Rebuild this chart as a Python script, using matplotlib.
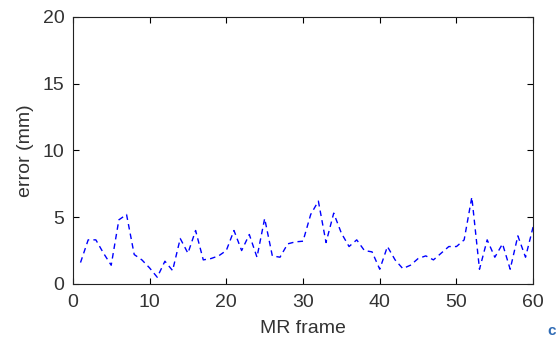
import matplotlib.pyplot as plt
import numpy as np

# datos: error por frame de MR
frames = np.arange(1, 61)
error_mm = [1.6, 3.3, 3.3, 2.3, 1.4, 4.8, 5.2, 2.2, 1.8, 1.2,
            0.5, 1.7, 1.0, 3.4, 2.3, 4.0, 1.8, 1.9, 2.1, 2.5,
            4.0, 2.5, 3.7, 2.0, 4.9, 2.1, 2.0, 3.0, 3.15, 3.2,
            5.2, 6.2, 3.1, 5.3, 3.8, 2.8, 3.3, 2.5, 2.4, 1.1,
            2.8, 1.8, 1.15, 1.4, 1.9, 2.1, 1.8, 2.3, 2.8, 2.8,
            3.3, 6.5, 1.1, 3.3, 2.0, 3.0, 1.1, 3.6, 2.0, 4.3]
xticks = [0, 10, 20, 30, 40, 50, 60]
yticks = [0, 5, 10, 15, 20]

plt.rcParams['font.family'] = ['Liberation Sans', 'DejaVu Sans']

fig = plt.figure(figsize=(5.56, 3.38), dpi=100)
ax = fig.add_axes([0.131, 0.160, 0.828, 0.790])

ax.plot(frames, error_mm, color='#0000ff', linestyle=(0, (4, 3)), linewidth=1.0)

ax.set_xlim(0, 60)
ax.set_ylim(0, 20)
ax.set_xticks(xticks)
ax.set_yticks(yticks)
ax.tick_params(direction='in', top=True, right=True, labelsize=14, length=4, width=0.8,
               labelcolor='#333333')
ax.tick_params(axis='x', pad=7.5)
ax.tick_params(axis='y', pad=6)
for s in ax.spines.values():
    s.set_linewidth(0.8)
    s.set_color('#222222')

ax.set_xlabel("MR frame", fontsize=14, labelpad=6, color='#333333')
ax.set_ylabel("error (mm)", fontsize=14, labelpad=6, color='#333333')

# etiqueta de subfigura (recortada en el original)
fig.text(0.985, 0.008, "c", color='#2f6bb5', fontsize=11, weight='bold', ha='left', va='baseline')

fig.savefig("out.png", dpi=100)
